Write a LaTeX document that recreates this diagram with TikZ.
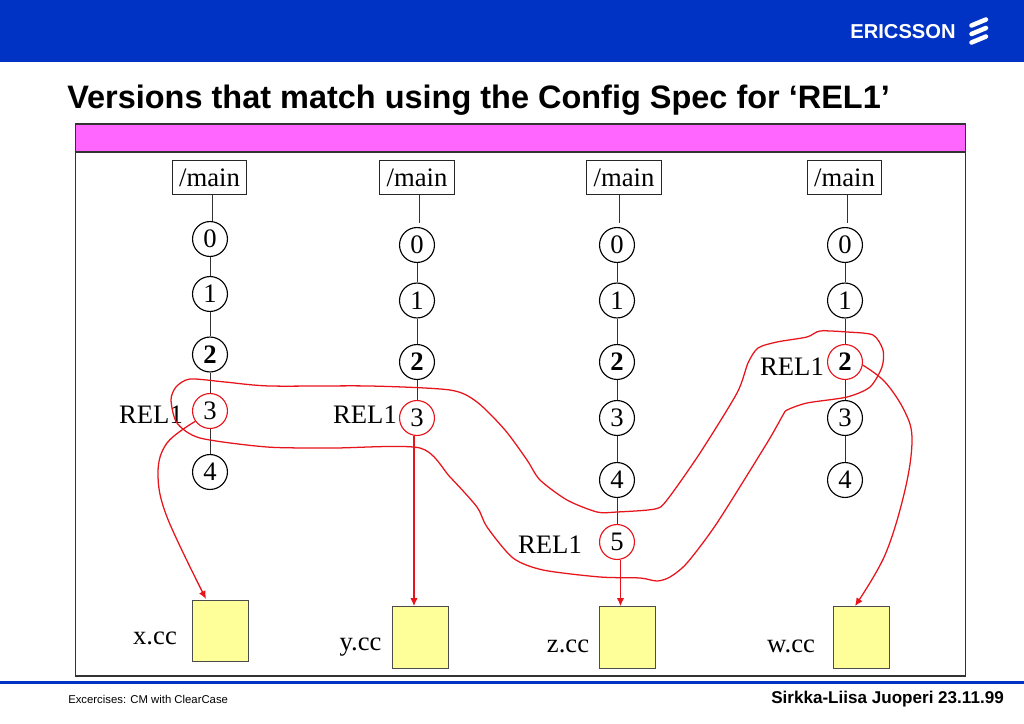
\documentclass[tikz,border=0pt]{standalone}
\usepackage{fontspec}
\setmainfont{Liberation Serif}
\newfontfamily\arial{Liberation Sans}
\definecolor{hdrblue}{HTML}{0033C4}
\definecolor{band}{HTML}{FF66FF}
\definecolor{boxy}{HTML}{FFFF99}
\definecolor{lred}{HTML}{E8141C}
\tikzset{
  ver/.style={circle,draw=black,line width=0.85pt,minimum size=26.2pt,inner sep=0pt,font=\fontsize{20}{20}\selectfont},
  rver/.style={ver,draw=lred},
  mainbox/.style={draw=black!85,line width=0.8pt,minimum width=56pt,minimum height=26pt,inner sep=0pt,font=\fontsize{20}{20}\selectfont},
  filebox/.style={draw=black!70,fill=boxy,line width=0.9pt,minimum width=41.5pt,minimum height=46pt,inner sep=0pt},
  lbl/.style={inner sep=0pt,font=\fontsize{20}{20}\selectfont},
  vline/.style={draw=black!80,line width=0.75pt},
  rline/.style={draw=lred,line width=0.95pt},
  rarrow/.style={rline,-{Latex[length=6pt,width=5.5pt]}}
}
\usetikzlibrary{arrows.meta}
\begin{document}
\begin{tikzpicture}[x=0.75pt,y=-0.75pt]
\useasboundingbox (0,0) rectangle (1024,724);
\fill[white] (0,0) rectangle (1024,724);
\fill[hdrblue] (0,0) rectangle (1024,62);
% logo
\node[inner sep=0pt,text=white,font=\arial\bfseries\fontsize{15.1}{16}\selectfont] (logo) at (903,31.5) {ERICSSON};
\foreach \yy in {0,8.5,17}{
  \draw[white,line width=3.4pt,line cap=round] (971.5,{25.5+\yy}) -- (986,{19.5+\yy});
}
% title
\node[anchor=west,inner sep=0pt,font=\arial\bfseries\fontsize{24.35}{26}\selectfont] (title) at (67,100) {Versions that match using the Config Spec for ‘REL1’};
% frame
\fill[band] (76,124) rectangle (965,152);
\draw[black!80,line width=0.8pt] (75.5,124) rectangle (965.5,676);
\draw[black!80,line width=0.8pt] (75.5,152) -- (965.5,152);
% main boxes
\node[mainbox] (m1) at (209.5,177.5) {/main};
\node[mainbox] (m2) at (417,177.5) {/main};
\node[mainbox] (m3) at (624,177.5) {/main};
\node[mainbox] (m4) at (844.5,177.5) {/main};
% column 1
\node[ver] (a0) at (210,239) {0};
\node[ver] (a1) at (210,294) {1};
\node[ver] (a2) at (210,354.5) {\textbf{2}};
\node[rver] (a3) at (210,411) {3};
\node[ver] (a4) at (210,472) {4};
% column 2
\node[ver] (b0) at (417,245) {0};
\node[ver] (b1) at (417,300.5) {1};
\node[ver] (b2) at (417,362) {\textbf{2}};
\node[rver] (b3) at (417,418) {3};
% column 3
\node[ver] (c0) at (617,245) {0};
\node[ver] (c1) at (617,300.5) {1};
\node[ver] (c2) at (617,362) {\textbf{2}};
\node[ver] (c3) at (617,418) {3};
\node[ver] (c4) at (617,480) {4};
\node[rver] (c5) at (617,542) {5};
% column 4
\node[ver] (d0) at (845,245) {0};
\node[ver] (d1) at (845,300.5) {1};
\node[rver] (d2) at (845,362) {\textbf{2}};
\node[ver] (d3) at (845,418) {3};
\node[ver] (d4) at (845,480) {4};
% verticals
\foreach \p/\q in {a0/a1,a1/a2,a2/a3,a3/a4,b0/b1,b1/b2,b2/b3,c0/c1,c1/c2,c2/c3,c3/c4,c4/c5,d0/d1,d1/d2,d2/d3,d3/d4}
  \draw[vline] (\p) -- (\q);
\draw[vline] ([xshift=1.9pt]m1.south) -- ++(0,26);
\draw[vline] ([xshift=1.5pt]m2.south) -- ++(0,28);
\draw[vline] ([xshift=-3.5pt]m3.south) -- ++(0,28);
\draw[vline] ([xshift=1.9pt]m4.south) -- ++(0,28);
% files
\node[filebox] (fx) at (220.5,631) {};
\node[filebox] (fy) at (420.5,637.5) {};
\node[filebox] (fz) at (627.5,637.5) {};
\node[filebox] (fw) at (861.5,637.5) {};
% labels
\node[lbl] (r1) at (151,415) {REL1};
\node[lbl] (r2) at (365,415) {REL1};
\node[lbl] (r3) at (550,545) {REL1};
\node[lbl] (r4) at (792,367) {REL1};
\node[lbl] (lx) at (155,638) {x.cc};
\node[lbl] (ly) at (360.5,647) {y.cc};
\node[lbl] (lz) at (568,646) {z.cc};
\node[lbl] (lw) at (791,646) {w.cc};
% selection loop
\draw[rline] plot[smooth cycle,tension=0.45] coordinates {
 (171,400) (176,387) (190,379) (225,382) (270,386) (370,386) (450,390) (477,402) (505,430) (527,460) (540,480)
 (567,500) (597,512) (617,512) (655,509) (667,500) (700,453) (737,393) (748,363) (758,348) (777,342) (807,337)
 (820,331) (847,332) (873,335) (883,350) (882,367) (870,387) (847,397) (807,403) (787,410) (783,415) (767,443)
 (717,523) (687,563) (670,577) (657,581) (640,578) (600,577) (543,570) (513,558) (487,527) (477,507) (450,477) (420,448)
 (333,448) (267,447) (200,438) (177,423)};
% arrows to files
\draw[rarrow] plot[smooth,tension=0.6] coordinates {(a3.215) (167,443) (158,473) (167,517) (206,599)};
\draw[rarrow,line width=1.1pt] (b3.south -| 414,0) -- (fy.north -| 414,0);
\draw[rarrow,line width=1.1pt] (c5.south -| 620.5,0) -- (fz.north -| 620.5,0);
\draw[rarrow] plot[smooth,tension=0.6] coordinates {(d2.350) (885,382) (905,412) (912,440) (905,490) (885,555) (855,606)};
% footer
\draw[hdrblue,line width=1.7pt] (0,682.5) -- (1024,682.5);
\node[anchor=west,inner sep=0pt,font=\arial\fontsize{8.5}{9}\selectfont] (f1) at (68,699.5) {Excercises: CM with ClearCase};
\node[anchor=east,inner sep=0pt,font=\arial\bfseries\fontsize{12.8}{13}\selectfont] (f2) at (1004,699) {Sirkka-Liisa Juoperi 23.11.99};
\end{tikzpicture}
\end{document}
